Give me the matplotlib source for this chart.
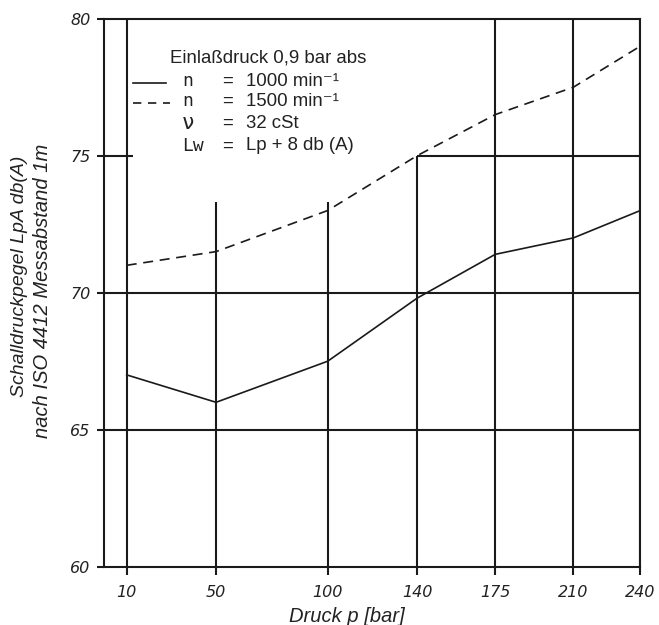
import matplotlib
matplotlib.use("Agg")
import matplotlib.pyplot as plt

# ---- data ----
pressure = [10, 50, 100, 140, 175, 210, 240]
lpa_1000 = [67.0, 66.0, 67.5, 69.8, 71.4, 72.0, 73.0]
lpa_1500 = [71.0, 71.5, 73.0, 75.0, 76.5, 77.5, 79.0]
x_ticks = [10, 50, 100, 140, 175, 210, 240]
y_ticks = [60, 65, 70, 75, 80]
# vertical grid line tops (value on y axis)
vgrid_top = [80, 73.3, 73.3, 75, 80, 80, 80]

title_text = "Einlaßdruck 0,9 bar abs"
legend_symbols = ["n", "n", "ν", "Lw"]
legend_values = ["1000 min⁻¹", "1500 min⁻¹", "32 cSt", "Lp + 8 db (A)"]
xlabel = "Druck p [bar]"
ylabel1 = "Schalldruckpegel LpA db(A)"
ylabel2 = "nach ISO 4412 Messabstand 1m"

W, H = 659, 625
fig = plt.figure(figsize=(W / 100, H / 100), dpi=100)
ax = fig.add_axes([104.4 / W, 58.3 / H, (640.4 - 104.4) / W, (606.3 - 58.3) / H])
ax.set_xlim(0, 240)
ax.set_ylim(60, 80)

lc = "#1a1a1a"
glw = 1.5

# grid
ax.vlines(x_ticks, 60, vgrid_top, colors=lc, lw=glw, zorder=1)
ax.hlines([65, 70], 0, 240, colors=lc, lw=glw, zorder=1)
ax.hlines(75, 0, 12.7, colors=lc, lw=glw, zorder=1)
ax.hlines(75, 140, 240, colors=lc, lw=glw, zorder=1)

# data lines
ax.plot(pressure, lpa_1000, color=lc, lw=1.2, zorder=3)
ax.plot(pressure, lpa_1500, color=lc, lw=1.2, ls=(0, (6, 4)), zorder=3)

for s in ax.spines.values():
    s.set_linewidth(glw)
    s.set_color(lc)

tick_font = dict(family="DejaVu Sans", style="italic", size=11.5)
ax.set_xticks(x_ticks)
ax.set_xticklabels([str(v) for v in x_ticks], **tick_font)
ax.set_yticks(y_ticks)
ax.set_yticklabels([str(v) for v in y_ticks], **tick_font)
ax.tick_params(axis="x", length=6, width=glw, color=lc, pad=7, labelcolor="#222222")
ax.tick_params(axis="y", length=5, width=glw, color=lc, pad=5, labelcolor="#222222")

# axis labels
lab_font = dict(family=["Liberation Sans", "DejaVu Sans"], style="italic", color="#222222")
fig.text(346.7 / W, 1 - 616.7 / H, xlabel, ha="center", va="center", size=14.5, **lab_font)
fig.text(20 / W, 1 - 276 / H, ylabel1, ha="center", va="center", rotation=90, size=14, **lab_font)
fig.text(43 / W, 1 - 291 / H, ylabel2, ha="center", va="center", rotation=90, size=14.5, **lab_font)

# legend block
leg_font = dict(family=["Liberation Sans", "DejaVu Sans"], size=13.4, color="#222222")
sym_font = dict(family="DejaVu Sans Mono", size=13, color="#222222")
fig.text(170 / W, 1 - 58 / H, title_text, ha="left", va="center", **leg_font)
row_y = [81, 101, 123, 146]
for i, (sym, val) in enumerate(zip(legend_symbols, legend_values)):
    fig.text(182 / W, 1 - row_y[i] / H, sym, ha="left", va="center",
             **dict(sym_font, size=15 if sym == "ν" else 13))
    fig.text(222 / W, 1 - row_y[i] / H, "=", ha="left", va="center", **leg_font)
    fig.text(246 / W, 1 - row_y[i] / H, val, ha="left", va="center", **leg_font)
fig.add_artist(plt.Line2D([133 / W, 166 / W], [1 - 83 / H, 1 - 83 / H], color=lc, lw=1.2))
fig.add_artist(plt.Line2D([133 / W, 170 / W], [1 - 103 / H, 1 - 103 / H], color=lc, lw=1.2, ls=(0, (5, 4))))

fig.savefig("out.png", dpi=100, facecolor="white")
